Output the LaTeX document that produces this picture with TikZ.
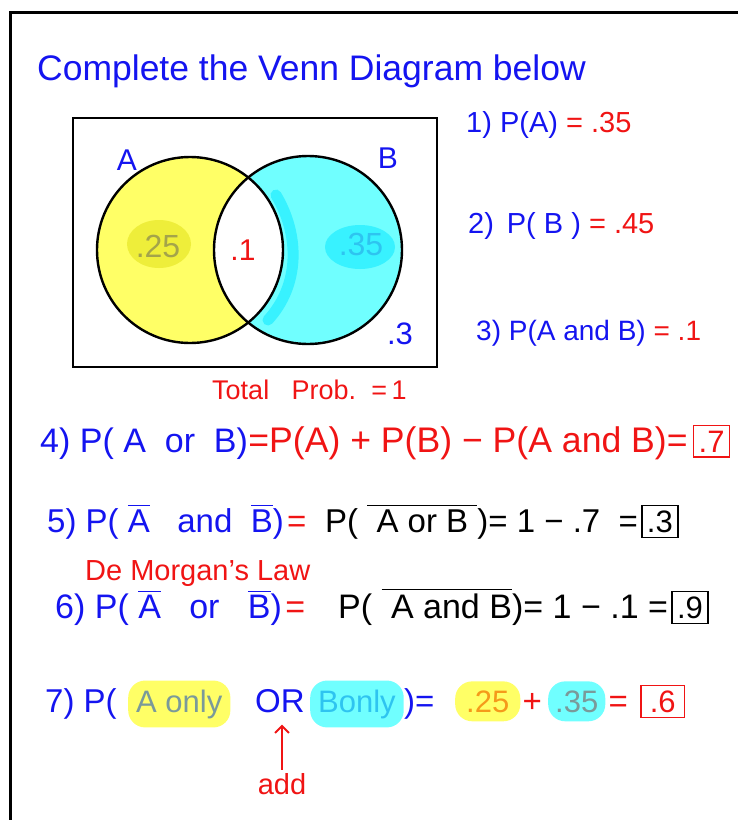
\documentclass[tikz,border=0pt]{standalone}
\usepackage{fontspec}
\setmainfont{Liberation Sans}
\usepackage{amsmath}
\usetikzlibrary{positioning, arrows.meta}
\definecolor{Ink}{HTML}{1414F0}
\definecolor{Pen}{HTML}{F01414}
\definecolor{Lemon}{HTML}{FFFF66}
\definecolor{LemonDeep}{HTML}{EEEE3A}
\definecolor{Aqua}{HTML}{70FFFF}
\definecolor{AquaDeep}{HTML}{38F2FF}
\definecolor{Olive}{HTML}{A4A44A}
\definecolor{Sky}{HTML}{2EC4F0}
\definecolor{Amber}{HTML}{F59A1A}
\definecolor{Slate}{HTML}{7A9A9A}
\tikzset{
    hand/.style={inner sep=0pt, anchor=base west, font=\fontsize{#1}{#1}\selectfont},
    ansbox/.style={draw=#1, line width=1.6pt, inner xsep=5pt, inner ysep=5pt, anchor=base west, font=\fontsize{31}{31}\selectfont},
    blob/.style={fill=#1, rounded corners=17pt, inner xsep=8pt, inner ysep=9pt, anchor=base west, font=\fontsize{31}{31}\selectfont},
    ring/.style={line width=2.4pt, draw=black},
}
\newcommand{\ovl}[1]{$\overline{\text{#1}}$}
\begin{document}
\begin{tikzpicture}[x=1pt,y=-1pt]
    \useasboundingbox (0,0) rectangle (738,820);
    \draw[line width=3pt] (10,820) -- (10,12) -- (738,12);

    \node[hand=35.5, text=Ink] (title) at (37,80) {Complete the Venn Diagram below};

    % venn diagram
    \coordinate (cA) at (190,250);
    \coordinate (cB) at (308,250);
    \fill[Lemon] (cA) circle (93pt);
    \fill[Aqua] (cB) circle (94pt);
    \begin{scope}
        \clip (cA) circle (93pt);
        \fill[white] (cB) circle (94pt);
    \end{scope}
    \draw[AquaDeep, line width=11pt, line cap=round] (276,195) .. controls (300,235) and (300,285) .. (268,320);
    \fill[LemonDeep] (159,244) ellipse [x radius=32pt, y radius=24pt];
    \fill[AquaDeep] (360,247) ellipse [x radius=35pt, y radius=22pt];
    \draw[ring] (cA) circle (93pt);
    \draw[ring] (cB) circle (94pt);
    \draw[line width=2.6pt] (73,118) rectangle (437,367);

    \node[text=Ink, font=\fontsize{30}{30}\selectfont] (labA) at (127,160) {A};
    \node[text=Ink, font=\fontsize{30}{30}\selectfont] (labB) at (388,158) {B};
    \node[text=Olive, font=\fontsize{32}{32}\selectfont] (onlyA) at (158,246) {.25};
    \node[text=Pen, font=\fontsize{30}{30}\selectfont] (both) at (243,250) {.1};
    \node[text=Sky, font=\fontsize{32}{32}\selectfont] (onlyB) at (361,244) {.35};
    \node[text=Ink, font=\fontsize{31}{31}\selectfont] (none) at (400,334) {.3};

    % questions 1-3
    \node[hand=29, text=Ink] (q1) at (466,132) {1) P(A) \textcolor{Pen}{= .35}};
    \node[hand=29, text=Ink] (q2) at (468,233) {2) \,P( B ) \textcolor{Pen}{= .45}};
    \node[hand=28, text=Ink] (q3) at (476,340) {3) P(A and B) \textcolor{Pen}{= .1}};

    \node[hand=27, text=Pen] (total) at (212,399) {Total\ \ \ Prob.\ \ =\,1};

    % question 4
    \node[hand=34, text=Ink] (q4) at (40,452) {4) P( A\ \ or\ \ B)};
    \node[hand=35.6, text=Pen, right=0pt of q4.base east, anchor=base west] (q4r) {=P(A) + P(B) − P(A and B)=};
    \node[ansbox=Pen, text=Pen, right=5pt of q4r.base east, anchor=base west] (a4) {.7};

    % question 5
    \node[hand=33, text=Ink] (q5) at (47,532) {5) P( \ovl{A}\ \ \ and\ \ \ovl{B})};
    \node[hand=33, text=Pen, right=3pt of q5.base east, anchor=base west] (q5eq) {=};
    \node[hand=33, text=black] (q5r) at (325,532) {P(\ \ovl{\ A or B\ })= 1 − .7 \ =};
    \node[ansbox=black, text=black, right=3pt of q5r.base east, anchor=base west] (a5) {.3};

    \node[hand=29, text=Pen] (morgan) at (85,580) {De Morgan's Law};

    % question 6
    \node[hand=34, text=Ink] (q6) at (55,618) {6) P( \ovl{A}\ \ \ or\ \ \ \ovl{B})};
    \node[hand=34, text=Pen, right=3pt of q6.base east, anchor=base west] (q6eq) {=};
    \node[hand=34, text=black] (q6r) at (338,618) {P(\ \ovl{\ A and B})= 1 − .1 =};
    \node[ansbox=black, text=black, right=3pt of q6r.base east, anchor=base west] (a6) {.9};

    % question 7
    \node[hand=33, text=Ink] (q7) at (45,712) {7) P(};
    \node[blob=Lemon, text=Slate] (aonly) at (128,712) {A only};
    \node[hand=33, text=Ink] (orw) at (255,712) {OR};
    \node[blob=Aqua, text=Sky] (bonly) at (310,712) {Bonly};
    \node[hand=33, text=Ink, right=0pt of bonly.base east, anchor=base west] (close) {)=};
    \node[blob=Lemon, text=Amber, inner xsep=11pt] (v25) at (455,712) {.25};
    \node[hand=33, text=Pen, right=2pt of v25.base east, anchor=base west] (plus) {+};
    \node[blob=Aqua, text=Slate, inner xsep=7pt] (v35) at (548,712) {.35};
    \node[hand=33, text=Pen, right=3pt of v35.base east, anchor=base west] (eq7) {=};
    \node[ansbox=Pen, text=Pen, inner xsep=9pt] (a7) at (640,712) {.6};

    \node[text=Pen, font=\fontsize{29}{29}\selectfont] (add) at (282,784) {add};
    \draw[Pen, line width=2pt, shorten >=12pt, -{Straight Barb[length=7pt]}] (add.north) -- (add.north |- orw.south);
\end{tikzpicture}
\end{document}
